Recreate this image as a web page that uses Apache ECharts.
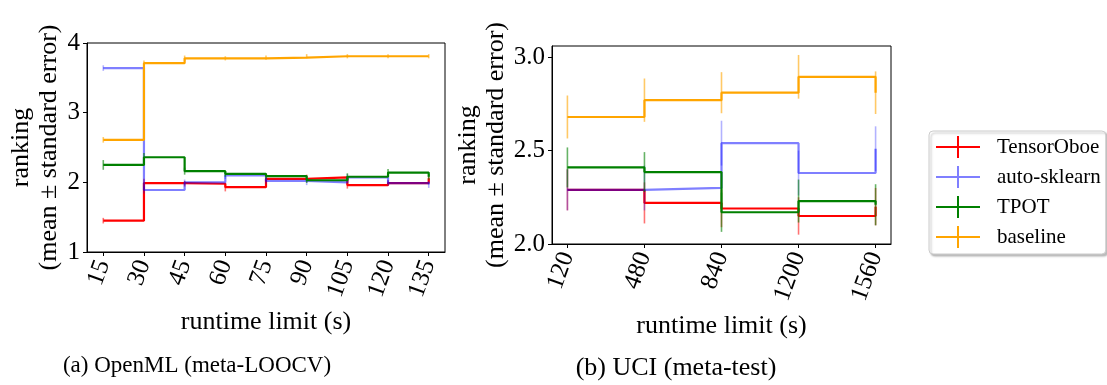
<!DOCTYPE html>
<html>
<head>
<meta charset="utf-8">
<script src="https://cdn.jsdelivr.net/npm/echarts@6/dist/echarts.min.js"></script>
<style>
html,body{margin:0;padding:0;background:#fff;}
#chart{width:1107px;height:385px;}
</style>
</head>
<body>
<div id="chart"></div>
<script>
// ---------- data ----------
var seriesNames = ['TensorOboe', 'auto-sklearn', 'TPOT', 'baseline'];

var leftX = [15, 30, 45, 60, 75, 90, 105, 120, 135];
var leftTensorOboe     = [1.45, 1.99, 1.98, 1.93, 2.05, 2.07, 1.96, 1.99, 2.06];
var leftTensorOboeErr  = [0.04, 0.06, 0.04, 0.06, 0.04, 0.04, 0.05, 0.04, 0.04];
var leftAutoSklearn    = [3.64, 1.89, 2.00, 2.10, 2.02, 2.00, 2.07, 1.99, 1.97];
var leftAutoSklearnErr = [0.04, 0.05, 0.04, 0.05, 0.04, 0.04, 0.05, 0.04, 0.05];
var leftTPOT           = [2.25, 2.36, 2.16, 2.12, 2.09, 2.03, 2.08, 2.14, 2.08];
var leftTPOTErr        = [0.07, 0.06, 0.05, 0.04, 0.04, 0.04, 0.05, 0.05, 0.04];
var leftBaseline       = [2.61, 3.71, 3.78, 3.78, 3.79, 3.81, 3.81, 3.81, 3.81];
var leftBaselineErr    = [0.04, 0.04, 0.04, 0.03, 0.03, 0.03, 0.03, 0.03, 0.03];
var leftTicks = [15, 30, 45, 60, 75, 90, 105, 120, 135];

var rightX = [120, 480, 840, 1200, 1560];
var rightTensorOboe     = [2.29, 2.22, 2.19, 2.15, 2.20];
var rightTensorOboeErr  = [0.11, 0.11, 0.10, 0.10, 0.10];
var rightAutoSklearn    = [2.29, 2.30, 2.54, 2.38, 2.51];
var rightAutoSklearnErr = [0.11, 0.12, 0.12, 0.12, 0.12];
var rightTPOT           = [2.41, 2.385, 2.17, 2.23, 2.21];
var rightTPOTErr        = [0.107, 0.107, 0.105, 0.115, 0.11];
var rightBaseline       = [2.68, 2.77, 2.81, 2.895, 2.81];
var rightBaselineErr    = [0.115, 0.116, 0.11, 0.117, 0.114];
var rightTicks = [120, 480, 840, 1200, 1560];
var rightYTicks = [2.0, 2.5, 3.0];

// ---------- styling ----------
var FONT = '"Liberation Serif", "Times New Roman", serif';
var lineColors = ['#ff0000', 'rgba(0,0,255,0.5)', '#008000', '#ffa500'];
var barColors  = ['rgba(255,0,0,0.55)', 'rgba(0,0,255,0.3)', 'rgba(0,128,0,0.6)', 'rgba(255,165,0,0.6)'];

function pairs(xs, ys) { return xs.map(function (x, i) { return [x, ys[i]]; }); }
function errData(xs, ys, es) { return xs.map(function (x, i) { return [x, ys[i] - es[i], ys[i] + es[i]]; }); }

function errRender(params, api) {
  var x = api.value(0);
  var a = api.coord([x, api.value(1)]);
  var b = api.coord([x, api.value(2)]);
  return {
    type: 'line',
    shape: { x1: a[0], y1: a[1], x2: b[0], y2: b[1] },
    style: { stroke: api.visual('color'), lineWidth: 1.6 }
  };
}

var leftSets = [
  [leftTensorOboe, leftTensorOboeErr],
  [leftAutoSklearn, leftAutoSklearnErr],
  [leftTPOT, leftTPOTErr],
  [leftBaseline, leftBaselineErr]
];
var rightSets = [
  [rightTensorOboe, rightTensorOboeErr],
  [rightAutoSklearn, rightAutoSklearnErr],
  [rightTPOT, rightTPOTErr],
  [rightBaseline, rightBaselineErr]
];

var series = [];
function addPanel(xs, sets, gi) {
  sets.forEach(function (s, k) {
    series.push({
      name: seriesNames[k], type: 'line', step: 'end', symbol: 'none',
      xAxisIndex: gi, yAxisIndex: gi,
      data: pairs(xs, s[0]),
      lineStyle: { color: lineColors[k], width: 2.2 },
      itemStyle: { color: lineColors[k] },
      z: 2 + k
    });
    series.push({
      name: seriesNames[k], type: 'custom',
      xAxisIndex: gi, yAxisIndex: gi,
      renderItem: errRender,
      data: errData(xs, s[0], s[1]),
      itemStyle: { color: barColors[k] },
      z: 2 + k
    });
  });
}
addPanel(leftX, leftSets, 0);
addPanel(rightX, rightSets, 1);

var axisLineStyle = { show: true, lineStyle: { color: '#000', width: 1 } };
var tickStyle = { show: true, length: 4, lineStyle: { color: '#000', width: 1 } };
var labelBase = { color: '#000', fontFamily: FONT, fontSize: 25 };
var nameStyle = { color: '#000', fontFamily: FONT, fontSize: 26, lineHeight: 28 };
function plain(v) { return String(v); }

var legendIcon = 'path://M0,10H44V12H0Z M21,0H23V22H21Z';

var option = {
  animation: false,
  backgroundColor: '#fff',
  grid: [
    { left: 87, top: 43, width: 358, height: 209, show: true, borderColor: '#000', borderWidth: 1, containLabel: false },
    { left: 552, top: 46, width: 339, height: 198, show: true, borderColor: '#000', borderWidth: 1, containLabel: false }
  ],
  xAxis: [
    {
      type: 'value', gridIndex: 0, min: 9, max: 141,
      axisLine: axisLineStyle, splitLine: { show: false },
      axisTick: Object.assign({ customValues: leftTicks }, tickStyle),
      axisLabel: Object.assign({ customValues: leftTicks, rotate: 70, margin: 9, formatter: plain }, labelBase),
      name: 'runtime limit (s)', nameLocation: 'middle', nameGap: 52, nameTextStyle: nameStyle
    },
    {
      type: 'value', gridIndex: 1, min: 48, max: 1632,
      axisLine: axisLineStyle, splitLine: { show: false },
      axisTick: Object.assign({ customValues: rightTicks }, tickStyle),
      axisLabel: Object.assign({ customValues: rightTicks, rotate: 70, margin: 9, formatter: plain }, labelBase),
      name: 'runtime limit (s)', nameLocation: 'middle', nameGap: 62, nameTextStyle: nameStyle
    }
  ],
  yAxis: [
    {
      type: 'value', gridIndex: 0, min: 1, max: 4, interval: 1,
      axisLine: axisLineStyle, splitLine: { show: false }, axisTick: tickStyle,
      axisLabel: Object.assign({ margin: 7 }, labelBase),
      name: 'ranking\n(mean \u00b1 standard error)', nameLocation: 'middle', nameRotate: 90,
      nameGap: 22, nameTextStyle: nameStyle
    },
    {
      type: 'value', gridIndex: 1, min: 2, max: 3.06,
      axisLine: axisLineStyle, splitLine: { show: false },
      axisTick: Object.assign({ customValues: rightYTicks }, tickStyle),
      axisLabel: Object.assign({ customValues: rightYTicks, margin: 7,
        formatter: function (v) { return v.toFixed(1); } }, labelBase),
      name: 'ranking\n(mean \u00b1 standard error)', nameLocation: 'middle', nameRotate: 90,
      nameGap: 40, nameTextStyle: nameStyle
    }
  ],
  legend: {
    orient: 'vertical', left: 929, top: 131,
    data: seriesNames.map(function (n, k) {
      return { name: n, icon: legendIcon, itemStyle: { color: lineColors[k] } };
    }),
    itemWidth: 44, itemHeight: 22, itemGap: 8,
    padding: [5, 5, 6, 7],
    backgroundColor: '#fff', borderColor: '#cccccc', borderWidth: 1, borderRadius: 4,
    shadowColor: 'rgba(0,0,0,0.25)', shadowBlur: 2, shadowOffsetX: 2, shadowOffsetY: 2,
    selectedMode: false,
    textStyle: { color: '#000', fontFamily: FONT, fontSize: 21, padding: [0, 0, 0, 12] }
  },
  graphic: [
    { type: 'text', x: 197, y: 366, style: { text: '(a) OpenML (meta-LOOCV)', font: '23px "Liberation Serif"', fill: '#000', align: 'center', verticalAlign: 'middle' } },
    { type: 'text', x: 676, y: 368, style: { text: '(b) UCI (meta-test)', font: '26px "Liberation Serif"', fill: '#000', align: 'center', verticalAlign: 'middle' } }
  ],
  series: series
};

var chart = echarts.init(document.getElementById('chart'), null, { renderer: 'canvas' });
chart.setOption(option);
</script>
</body>
</html>
